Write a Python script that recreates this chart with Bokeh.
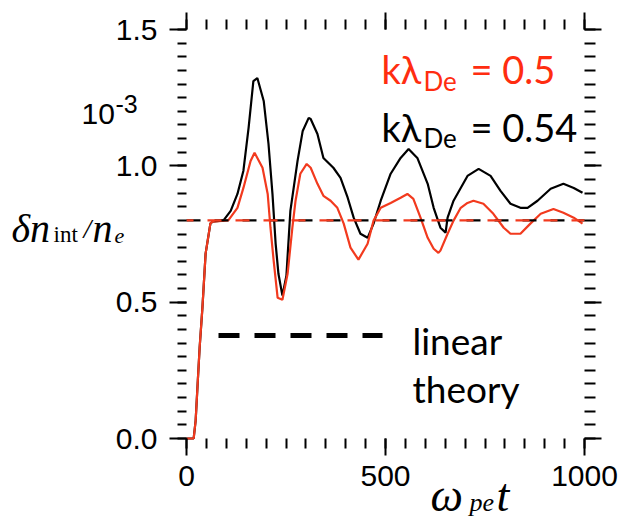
import numpy as np
from bokeh.plotting import figure
from bokeh.models import Range1d, LinearAxis, FixedTicker, Label
from bokeh.embed import file_html
from bokeh.resources import INLINE

# ---------------- data ----------------
# omega_pe * t
red_t = [0, 18, 23, 28, 33, 40, 48, 60, 65, 105, 128, 143, 161, 171, 191, 204, 211, 219, 229, 241,
         254, 266, 274, 286, 302, 312, 329, 344, 362, 379, 395, 412, 432, 455, 470, 488, 513, 538,
         555, 570, 588, 606, 621, 633, 638, 656, 671, 689, 706, 721, 746, 771, 797, 814, 839, 864,
         890, 922, 947, 973, 995]
red_n = [0.0, 0.0, 0.066, 0.201, 0.333, 0.48, 0.678, 0.788, 0.795, 0.80, 0.846, 0.919, 1.018, 1.048,
         0.993, 0.897, 0.773, 0.652, 0.516, 0.509, 0.604, 0.773, 0.872, 0.971, 1.007, 0.993, 0.934,
         0.89, 0.872, 0.846, 0.788, 0.70, 0.656, 0.714, 0.799, 0.846, 0.864, 0.883, 0.897, 0.879,
         0.81, 0.736, 0.696, 0.681, 0.689, 0.751, 0.799, 0.846, 0.864, 0.872, 0.861, 0.824, 0.773,
         0.751, 0.751, 0.788, 0.824, 0.842, 0.828, 0.81, 0.788]

black_t = [0, 18, 23, 28, 33, 40, 48, 60, 65, 93, 111, 128, 143, 156, 168, 178, 194, 206, 216, 224,
           231, 241, 251, 261, 279, 292, 307, 312, 329, 344, 369, 387, 405, 420, 437, 455, 470, 488,
           513, 538, 558, 580, 606, 621, 638, 651, 656, 671, 689, 706, 734, 764, 789, 814, 839, 857,
           882, 915, 947, 973, 995]
black_n = [0.0, 0.0, 0.066, 0.201, 0.333, 0.48, 0.678, 0.788, 0.795, 0.80, 0.835, 0.897, 0.982,
           1.139, 1.311, 1.322, 1.238, 1.081, 0.897, 0.714, 0.604, 0.524, 0.597, 0.835, 1.018, 1.128,
           1.176, 1.172, 1.117, 1.029, 0.993, 0.956, 0.883, 0.81, 0.751, 0.736, 0.788, 0.872, 0.971,
           1.029, 1.062, 1.029, 0.934, 0.846, 0.773, 0.755, 0.81, 0.872, 0.919, 0.963, 0.989, 0.963,
           0.908, 0.861, 0.846, 0.846, 0.872, 0.916, 0.934, 0.919, 0.901]

linear_theory = 0.80
x_ticks = [0, 500, 1000]
x_tick_labels = ["0", "500", "1000"]
y_ticks = [0.0, 0.5, 1.0, 1.5]
y_tick_labels = ["0.0", "0.5", "1.0", "1.5"]
x_minor = list(range(0, 1001, 50))
y_minor = [round(v, 2) for v in np.arange(0, 1.5001, 0.05)]
X0, X1 = 0, 1000
Y0, Y1 = 0.0, 1.5

RED = "#f23a1e"
RED_TXT = "#ff2d10"

# ---------------- layout (pixels) ----------------
W, H = 626, 524
BOX_L, BOX_R, BOX_T, BOX_B = 186, 584, 29, 438   # plot box in canvas pixels
sxu = (BOX_R - BOX_L) / (X1 - X0)   # px per x unit
syu = (BOX_B - BOX_T) / (Y1 - Y0)   # px per y unit
x_range = Range1d(X0 - BOX_L / sxu, X1 + (W - BOX_R) / sxu)
y_range = Range1d(Y0 - (H - BOX_B) / syu, Y1 + BOX_T / syu)

p = figure(frame_width=W, frame_height=H, min_border=0,
           x_range=x_range, y_range=y_range,
           output_backend="svg", toolbar_location=None, x_axis_location=None,
           y_axis_location=None)
p.outline_line_color = None
p.xgrid.visible = False
p.ygrid.visible = False
p.background_fill_color = "white"
p.border_fill_color = "white"


def style_axis(ax, ticks, minor, labels, tick_out_minor, show_labels):
    ax.ticker = FixedTicker(ticks=ticks, minor_ticks=minor)
    ax.axis_line_color = None
    ax.major_tick_in = 0
    ax.major_tick_out = 17
    ax.minor_tick_in = 0
    ax.minor_tick_out = tick_out_minor
    ax.major_tick_line_width = 2
    ax.minor_tick_line_width = 2
    ax.major_tick_line_color = "black"
    ax.minor_tick_line_color = "black"
    if show_labels:
        ax.major_label_overrides = {t: l for t, l in zip(ticks, labels)}
        ax.major_label_text_font = "Liberation Sans"
        ax.major_label_text_font_size = "30px"
        ax.major_label_text_color = "black"
    else:
        ax.major_label_overrides = {t: "" for t in ticks}
        ax.major_label_text_font_size = "0px"
        ax.major_label_standoff = 0


bottom = LinearAxis(fixed_location=Y0)
style_axis(bottom, x_ticks, x_minor, x_tick_labels, 10, True)
bottom.major_label_standoff = 10
p.add_layout(bottom, "below")

top = LinearAxis(fixed_location=Y1)
style_axis(top, x_ticks, x_minor, x_tick_labels, 10, False)
p.add_layout(top, "above")

left = LinearAxis(fixed_location=X0)
style_axis(left, y_ticks, y_minor, y_tick_labels, 9, True)
left.major_label_standoff = 12
p.add_layout(left, "left")

right = LinearAxis(fixed_location=X1)
style_axis(right, y_ticks, y_minor, y_tick_labels, 11, False)
p.add_layout(right, "right")

# curves
p.line(black_t, black_n, line_color="black", line_width=2.2)
p.line(red_t, red_n, line_color=RED, line_width=2.2)

# linear theory dashed line
p.line([X0, X1], [linear_theory, linear_theory], line_color="black", line_width=2.2,
       line_dash="14 14")
p.line([X0, X1], [linear_theory, linear_theory], line_color=RED, line_width=2.2,
       line_dash="14 14", line_dash_offset=7)


# --------------- helpers for annotation placement (pixel -> data) ---------------
def dx(px):
    return X0 + (px - BOX_L) / sxu


def dy(py):
    return Y0 + (BOX_B - py) / syu


# legend sample for linear theory
p.line([dx(218), dx(382)], [dy(335), dy(335)], line_color="black", line_width=5,
       line_dash="21 15")


def txt(s, px, py, size, color="black", font="Lato", style="normal"):
    p.add_layout(Label(x=dx(px), y=dy(py), text=s, text_font=font, text_font_size=size,
                       text_color=color, text_font_style=style, text_baseline="alphabetic",
                       text_align="left"))


txt("linear", 412, 340, "37px")
txt("theory", 412, 388, "37px")

txt("kλ", 381, 68, "38px", RED_TXT)
txt("De", 423, 80, "26px", RED_TXT)
txt("= 0.5", 470, 68, "38px", RED_TXT)
txt("kλ", 381, 126, "38px")
txt("De", 423, 137, "26px")
txt("= 0.54", 470, 126, "38px")

# exponent label
txt("10", 81, 113, "30px", font="Liberation Sans")
txt("-3", 115, 103, "25px", font="Liberation Sans")

# y label: δn_int / n_e
SERIF = "Liberation Serif"
txt("δn", 11, 228, "40px", font=SERIF, style="italic")
txt("int", 53, 234, "23px", font=SERIF)
txt("/", 83, 228, "28px", font=SERIF, style="italic")
txt("n", 92, 228, "40px", font=SERIF, style="italic")
txt("e", 114, 235, "22px", font=SERIF, style="italic")

# x label: ω_pe t
txt("ω", 430, 495, "46px", font=SERIF, style="italic")
txt("pe", 469, 502, "26px", font=SERIF, style="italic")
txt("t", 496, 495, "46px", font=SERIF, style="italic")

open("out.html", "w").write(file_html(p, INLINE))
